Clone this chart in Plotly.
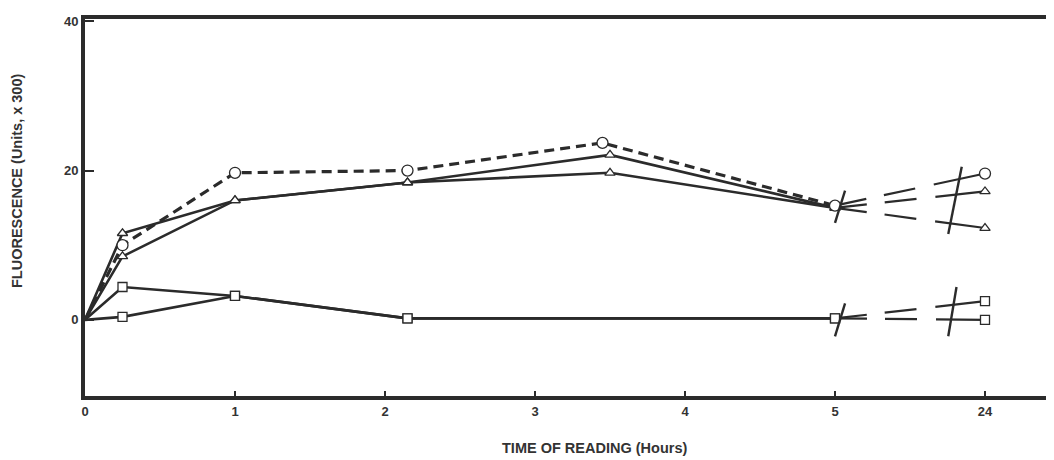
import plotly.graph_objects as go

# ---- data (x in hours; the 24 h reading is plotted at axis position 6, after a break) ----
tick_pos = [0, 1, 2, 3, 4, 5, 6]
tick_labels = ["0", "1", "2", "3", "4", "5", "24"]

circle_x = [0, 0.25, 1, 2.15, 3.45, 5]
circle_y = [0, 10.0, 19.7, 20.0, 23.7, 15.3]
circle_24 = 19.6

triA_x = [0, 0.25, 1, 2.15, 3.5, 5]
triA_y = [0, 11.6, 16.0, 18.4, 22.1, 15.0]
triA_24 = 17.2

triB_x = [0, 0.25, 1, 2.15, 3.5, 5]
triB_y = [0, 8.5, 16.0, 18.4, 19.7, 15.0]
triB_24 = 12.3

sqA_x = [0, 0.25, 1, 2.15, 5]
sqA_y = [0, 4.4, 3.2, 0.2, 0.2]
sqA_24 = 2.5

sqB_x = [0, 0.25, 1, 2.15, 5]
sqB_y = [0, 0.4, 3.2, 0.2, 0.2]
sqB_24 = 0.0

POS_24 = 6
INK = "#2b2b2b"

# drawn in this order; circle last so its marker sits on top
series = [
    (sqA_x, sqA_y, sqA_24, "square", None, 2.6, 9),
    (sqB_x, sqB_y, sqB_24, "square", None, 2.6, 9),
    (triA_x, triA_y, triA_24, "triangle-up", None, 2.6, 9),
    (triB_x, triB_y, triB_24, "triangle-up", None, 2.6, 9),
    (circle_x, circle_y, circle_24, "circle", "10px,6px", 3.2, 11),
]

fig = go.Figure()

for xs, ys, y24, sym, dash, lw, ms in series:
    fig.add_trace(go.Scatter(x=xs, y=ys, mode="lines",
                             line=dict(color=INK, width=lw, dash=dash or "solid"),
                             hoverinfo="skip", showlegend=False))
for xs, ys, y24, sym, dash, lw, ms in series:
    fig.add_trace(go.Scatter(x=[xs[-1], POS_24], y=[ys[-1], y24], mode="lines",
                             line=dict(color=INK, width=2.2, dash="32px,18px,32px,19px,60px,10px"),
                             hoverinfo="skip", showlegend=False))
for xs, ys, y24, sym, dash, lw, ms in series:
    fig.add_trace(go.Scatter(x=xs[1:] + [POS_24], y=ys[1:] + [y24], mode="markers",
                             marker=dict(symbol=sym, size=ms, color="white",
                                         line=dict(color=INK, width=1.3)),
                             showlegend=False))

# axis-break marks (decoration)
breaks = [(5.0, 5.067, 13.0, 17.3), (5.0, 5.067, -2.2, 2.2),
          (5.755, 5.845, 11.5, 20.5), (5.755, 5.81, -2.2, 4.4)]
for x0, x1, y0, y1 in breaks:
    fig.add_shape(type="line", x0=x0, x1=x1, y0=y0, y1=y1, xref="x", yref="y",
                  line=dict(color=INK, width=2.4))

font = dict(family="Liberation Sans, Arial, sans-serif", color="#333333")

# page has an ~8px body margin; figure sized to fit the 1054x460 window
OFF = 8
W, H = 1054 - OFF, 460 - OFF
L, R, T, B = 85 - OFF, 0, 19 - OFF, H - (396 - OFF)

fig.update_layout(
    width=W, height=H,
    margin=dict(l=L, r=R, t=T, b=B),
    paper_bgcolor="white", plot_bgcolor="white",
    font=font,
    xaxis=dict(range=[0, 6.46], tickvals=tick_pos, ticktext=tick_labels,
               showgrid=False, zeroline=False, showline=True, mirror=True,
               linecolor=INK, linewidth=4, ticks="inside", ticklen=5, tickwidth=1.5,
               tickcolor=INK, tickfont=dict(size=13, weight="bold", **font)),
    yaxis=dict(range=[-10.2, 40.3], tickvals=[0, 20, 40], ticktext=["0", "20", "40"],
               showgrid=False, zeroline=False, showline=True, mirror=False,
               linecolor=INK, linewidth=4, ticks="inside", ticklen=9, tickwidth=2,
               tickcolor=INK, tickfont=dict(size=13, weight="bold", **font)),
)

pw, ph = W - L - R, H - T - B


def px_to_paper(sx, sy):
    return (sx - OFF - L) / pw, (H - B - (sy - OFF)) / ph


ax, ay = px_to_paper(17, 181)
bx, by = px_to_paper(594, 448)
fig.add_annotation(text="FLUORESCENCE (Units, x 300)", textangle=-90, x=ax, y=ay,
                   xref="paper", yref="paper", xanchor="center", yanchor="middle",
                   showarrow=False, font=dict(size=14.5, weight="bold", **font))
fig.add_annotation(text="TIME OF READING (Hours)", x=bx, y=by,
                   xref="paper", yref="paper", xanchor="center", yanchor="middle",
                   showarrow=False, font=dict(size=14.5, weight="bold", **font))

fig.write_html("out.html")
